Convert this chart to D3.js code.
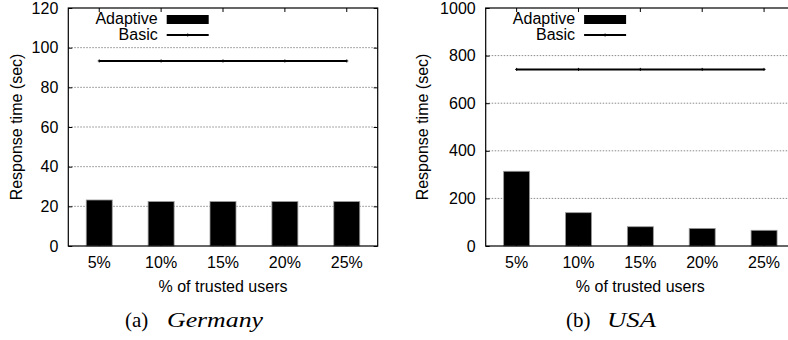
<!DOCTYPE html>
<html>
<head>
<meta charset="utf-8">
<script src="https://cdn.jsdelivr.net/npm/d3@7/dist/d3.min.js"></script>
<style>
  html, body { margin: 0; padding: 0; background: #fff; }
  svg { display: block; }
  .tick text { font-family: "Liberation Sans", Arial, sans-serif; font-size: 16px; fill: #000; }
</style>
</head>
<body>
<svg id="chart" width="788" height="340"></svg>
<script>
// Response time of the adaptive vs. basic scheme, by share of trusted users
const categories = ["5%", "10%", "15%", "20%", "25%"];
const germanyAdaptive = [23.2, 22.4, 22.4, 22.4, 22.4];
const germanyBasic = [93.3, 93.3, 93.3, 93.3, 93.3];
const usaAdaptive = [314, 140, 81, 74, 66];
const usaBasic = [742, 742, 742, 742, 742];
const germanyTicks = [0, 20, 40, 60, 80, 100, 120];
const usaTicks = [0, 200, 400, 600, 800, 1000];

const svg = d3.select("#chart");
const sans = "'Liberation Sans', Arial, sans-serif";
const serif = "'Liberation Serif', 'Times New Roman', serif";

const panels = [
  { left: 68.3, right: 377.7, adaptive: germanyAdaptive, basic: germanyBasic,
    ticks: germanyTicks, max: 120, tag: "(a)", name: "Germany",
    tagX: 125, nameX: 167, nameW: 96, labelX: 21.5 },
  { left: 485.7, right: 795, adaptive: usaAdaptive, basic: usaBasic,
    ticks: usaTicks, max: 1000, tag: "(b)", name: "USA",
    tagX: 566, nameX: 607, nameW: 49, labelX: 427.5 }
];

const plotTop = 8, plotBottom = 246;

panels.forEach(p => {
  const g = svg.append("g");
  const x = d3.scaleBand().domain(categories).range([p.left, p.right])
    .paddingInner(0.58).paddingOuter(0.29);
  const y = d3.scaleLinear().domain([0, p.max]).range([plotBottom, plotTop]);
  const cx = c => x(c) + x.bandwidth() / 2;

  // dotted grid
  g.append("g").selectAll("line")
    .data(p.ticks.filter(t => t > 0 && t < p.max))
    .join("line")
    .attr("x1", p.left).attr("x2", p.right)
    .attr("y1", d => y(d)).attr("y2", d => y(d))
    .attr("stroke", "#8a8a8a").attr("stroke-width", 1)
    .attr("stroke-dasharray", "1.5,1.5");

  // bars
  g.append("g").selectAll("rect")
    .data(p.adaptive)
    .join("rect")
    .attr("x", (d, i) => x(categories[i]))
    .attr("width", x.bandwidth())
    .attr("y", d => y(d))
    .attr("height", d => plotBottom - y(d))
    .attr("fill", "#000")
    .attr("stroke", "#9a9a9a").attr("stroke-width", 0.8);

  // y axis (left), inward ticks
  const yAxis = g.append("g").attr("transform", `translate(${p.left},0)`)
    .call(d3.axisLeft(y).tickValues(p.ticks).tickSize(-4).tickPadding(10).tickFormat(d3.format("d")));
  yAxis.select(".domain").remove();
  yAxis.selectAll(".tick line").attr("stroke", "#000");

  // mirrored ticks on the right border
  const yAxisR = g.append("g").attr("transform", `translate(${p.right},0)`)
    .call(d3.axisRight(y).tickValues(p.ticks).tickSize(-4).tickFormat(""));
  yAxisR.select(".domain").remove();

  // x axis with inward ticks
  const xAxis = g.append("g").attr("transform", `translate(0,${plotBottom})`)
    .call(d3.axisBottom(x).tickSize(-4).tickPadding(10.5));
  xAxis.select(".domain").remove();
  const xAxisT = g.append("g").attr("transform", `translate(0,${plotTop})`)
    .call(d3.axisTop(x).tickSize(-4).tickFormat(""));
  xAxisT.select(".domain").remove();

  // basic scheme line with point marks
  const line = d3.line().x((d, i) => cx(categories[i])).y(d => y(d));
  g.append("path").datum(p.basic)
    .attr("d", line).attr("fill", "none")
    .attr("stroke", "#000").attr("stroke-width", 2);
  g.append("g").selectAll("path")
    .data(p.basic)
    .join("path")
    .attr("d", (d, i) => {
      const px = cx(categories[i]), py = y(d);
      return `M${px - 1.5},${py}H${px + 1.5}M${px},${py - 1.5}V${py + 1.5}`;
    })
    .attr("stroke", "#000").attr("stroke-width", 1);

  // frame
  g.append("rect")
    .attr("x", p.left).attr("y", plotTop)
    .attr("width", p.right - p.left).attr("height", plotBottom - plotTop)
    .attr("fill", "none").attr("stroke", "#000").attr("stroke-width", 1.2);

  // legend
  const lx = p.left + 89.4, bx = p.left + 98.4;
  g.append("text").attr("x", lx).attr("y", 24).attr("text-anchor", "end")
    .attr("font-family", sans).attr("font-size", 16).text("Adaptive");
  g.append("rect").attr("x", bx).attr("y", 15).attr("width", 42).attr("height", 9)
    .attr("fill", "#000");
  g.append("text").attr("x", lx).attr("y", 40).attr("text-anchor", "end")
    .attr("font-family", sans).attr("font-size", 16).text("Basic");
  g.append("line").attr("x1", bx).attr("x2", bx + 42).attr("y1", 35).attr("y2", 35)
    .attr("stroke", "#000").attr("stroke-width", 2);
  g.append("path")
    .attr("d", `M${bx + 21},33.5V36.5`)
    .attr("stroke", "#000").attr("stroke-width", 1);

  // axis titles
  g.append("text")
    .attr("transform", `translate(${p.labelX},${(plotTop + plotBottom) / 2}) rotate(-90)`)
    .attr("text-anchor", "middle")
    .attr("font-family", sans).attr("font-size", 16)
    .text("Response time (sec)");
  const midX = (cx(categories[0]) + cx(categories[4])) / 2;
  g.append("text").attr("x", midX).attr("y", 292).attr("text-anchor", "middle")
    .attr("font-family", sans).attr("font-size", 16)
    .text("% of trusted users");

  // caption
  g.append("text").attr("x", p.tagX).attr("y", 327)
    .attr("font-family", serif).attr("font-size", 21).text(p.tag);
  g.append("text").attr("x", p.nameX).attr("y", 327)
    .attr("font-family", serif).attr("font-size", 21).attr("font-style", "italic")
    .attr("textLength", p.nameW).attr("lengthAdjust", "spacingAndGlyphs")
    .text(p.name);
});
</script>
</body>
</html>
